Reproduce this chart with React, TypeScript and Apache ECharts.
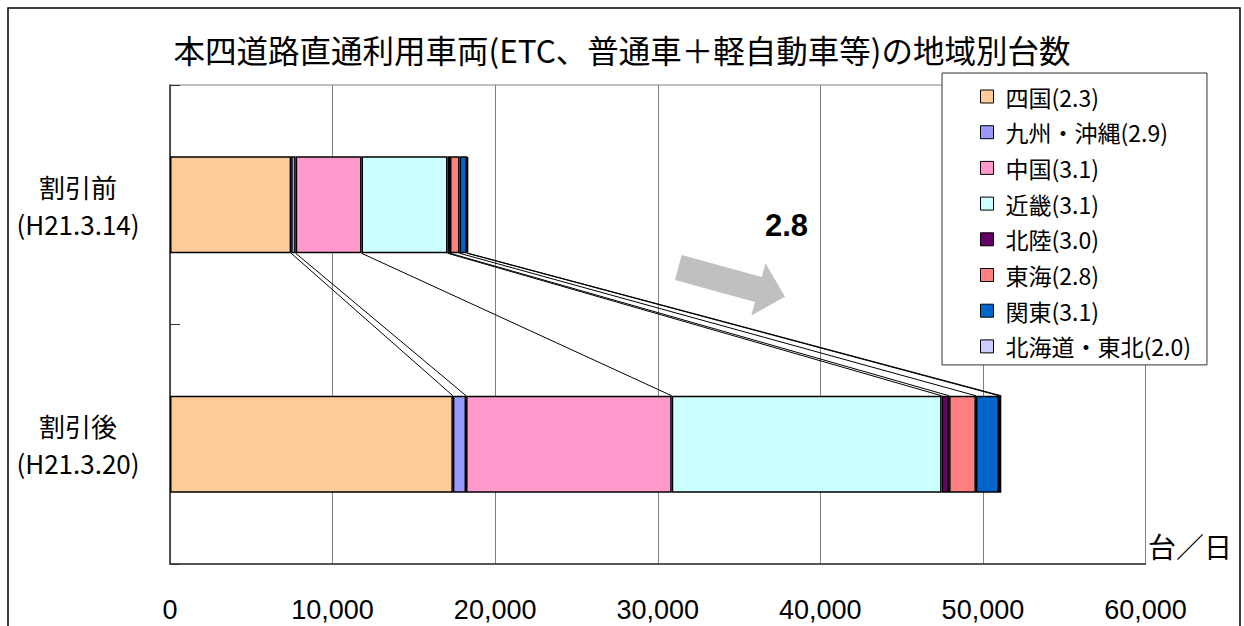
import React, { useEffect, useRef } from "react";
import * as echarts from "echarts";

const categories = ["割引前\n(H21.3.14)", "割引後\n(H21.3.20)"];
const regions = ["四国", "九州・沖縄", "中国", "近畿", "北陸", "東海", "関東", "北海道・東北"];
const ratios = ["2.3", "2.9", "3.1", "3.1", "3.0", "2.8", "3.1", "2.0"];
const before = [7450, 280, 4050, 5290, 150, 590, 460, 70];
const after = [17400, 810, 12650, 16600, 460, 1650, 1420, 140];
const colors = ["#FFCC99", "#9999FF", "#FF99CC", "#CCFFFF", "#660066", "#FF8080", "#0066CC", "#CCCCFF"];
const xTicks = { min: 0, max: 60000, interval: 10000 };
const totalRatio = "2.8";
const unitLabel = "台／日";
const titleText = "本四道路直通利用車両(ETC、普通車＋軽自動車等)の地域別台数";

const FONT = "'Noto Sans CJK JP', 'Noto Sans', sans-serif";
const LATIN = "'Liberation Sans', Arial, sans-serif";
const BAR_W = 97;

export default function App() {
  const ref = useRef<HTMLDivElement>(null);
  useEffect(() => {
    if (!ref.current) return;
    const chart = echarts.init(ref.current, null, { renderer: "svg" });
    const names = regions.map((r, i) => `${r}(${ratios[i]})`);
    // cumulative boundaries for connector lines
    const connectors: number[][] = [];
    let cb = 0;
    let ca = 0;
    for (let i = 0; i < regions.length; i++) {
      cb += before[i];
      ca += after[i];
      connectors.push([cb, ca, 0]);
    }
    const barSeries = regions.map((r, i) => ({
      name: names[i],
      type: "bar",
      stack: "total",
      barWidth: BAR_W,
      data: [before[i], after[i]],
      itemStyle: { color: colors[i], borderColor: "#000", borderWidth: 1.5 },
    }));
    const option: any = {
      animation: false,
      backgroundColor: "#fff",
      textStyle: { fontFamily: FONT },
      title: {
        text: titleText,
        left: "center",
        top: 27,
        textStyle: { fontFamily: FONT, fontSize: 31.5, lineHeight: 34, fontWeight: "normal", color: "#000" },
      },
      legend: {
        orient: "vertical",
        left: 942,
        top: 73,
        padding: [12, 16, 7, 38],
        itemGap: 12.7,
        itemWidth: 13,
        itemHeight: 13,
        icon: "rect",
        backgroundColor: "#fff",
        borderColor: "#333",
        borderWidth: 1,
        data: names,
        itemStyle: { borderColor: "#000", borderWidth: 1 },
        textStyle: { fontFamily: FONT, fontSize: 23, lineHeight: 23, color: "#000", padding: [0, 0, 0, 7] },
      },
      grid: {
        left: 170,
        right: 98.5,
        top: 85,
        bottom: 62,
        show: true,
        borderColor: "#808080",
        borderWidth: 1,
      },
      xAxis: {
        type: "value",
        min: xTicks.min,
        max: xTicks.max,
        interval: xTicks.interval,
        axisLine: { show: true, lineStyle: { color: "#333", width: 1.5 } },
        axisTick: { show: false },
        splitLine: { show: true, lineStyle: { color: "#808080", width: 1 } },
        axisLabel: {
          margin: 32,
          fontFamily: LATIN,
          fontSize: 27,
          lineHeight: 27,
          color: "#000",
          formatter: (v: number) => v.toLocaleString("en-US"),
        },
      },
      yAxis: {
        type: "category",
        inverse: true,
        data: categories,
        axisLine: { show: true, lineStyle: { color: "#333", width: 1.5 } },
        axisTick: { show: true, inside: true, length: 10, lineStyle: { color: "#333" } },
        axisLabel: {
          margin: 92,
          align: "center",
          fontFamily: FONT,
          fontSize: 26,
          lineHeight: 37,
          color: "#000",
        },
      },
      graphic: [
        {
          type: "rect",
          shape: { x: 8, y: 8, width: 1232, height: 700 },
          style: { fill: "none", stroke: "#000", lineWidth: 1.5 },
          z: 10,
          silent: true,
        },
        {
          type: "polygon",
          shape: {
            points: [
              [681.7, 255.0],
              [761.8, 276.9],
              [765.5, 263.3],
              [785.0, 296.7],
              [751.3, 315.5],
              [755.0, 302.0],
              [674.9, 280.1],
            ],
          },
          style: { fill: "#C0C0C0" },
          z: 5,
        },
        {
          type: "text",
          x: 765,
          y: 225,
          style: {
            text: totalRatio,
            font: `bold 31px ${LATIN}`,
            fill: "#000",
            verticalAlign: "middle",
            align: "left",
          },
          z: 5,
        },
        {
          type: "text",
          x: 1148,
          y: 546,
          style: {
            text: unitLabel,
            font: `28px ${FONT}`,
            fill: "#000",
            verticalAlign: "middle",
            align: "left",
          },
          z: 5,
        },
      ],
      series: [
        ...barSeries,
        {
          type: "custom",
          name: "connectors",
          data: connectors,
          encode: { x: [0, 1], y: 2 },
          z: 3,
          silent: true,
          renderItem: (params: any, api: any) => {
            const p1 = api.coord([api.value(0), 0]);
            const p2 = api.coord([api.value(1), 1]);
            return {
              type: "line",
              shape: { x1: p1[0], y1: p1[1] + BAR_W / 2, x2: p2[0], y2: p2[1] - BAR_W / 2 },
              style: { stroke: "#000", lineWidth: 1 },
            };
          },
        },
      ],
    };
    chart.setOption(option);
    return () => chart.dispose();
  }, []);
  return (
    <div
      ref={ref}
      style={{ position: "absolute", left: 0, top: 0, width: 1244, height: 626, background: "#fff" }}
    />
  );
}
